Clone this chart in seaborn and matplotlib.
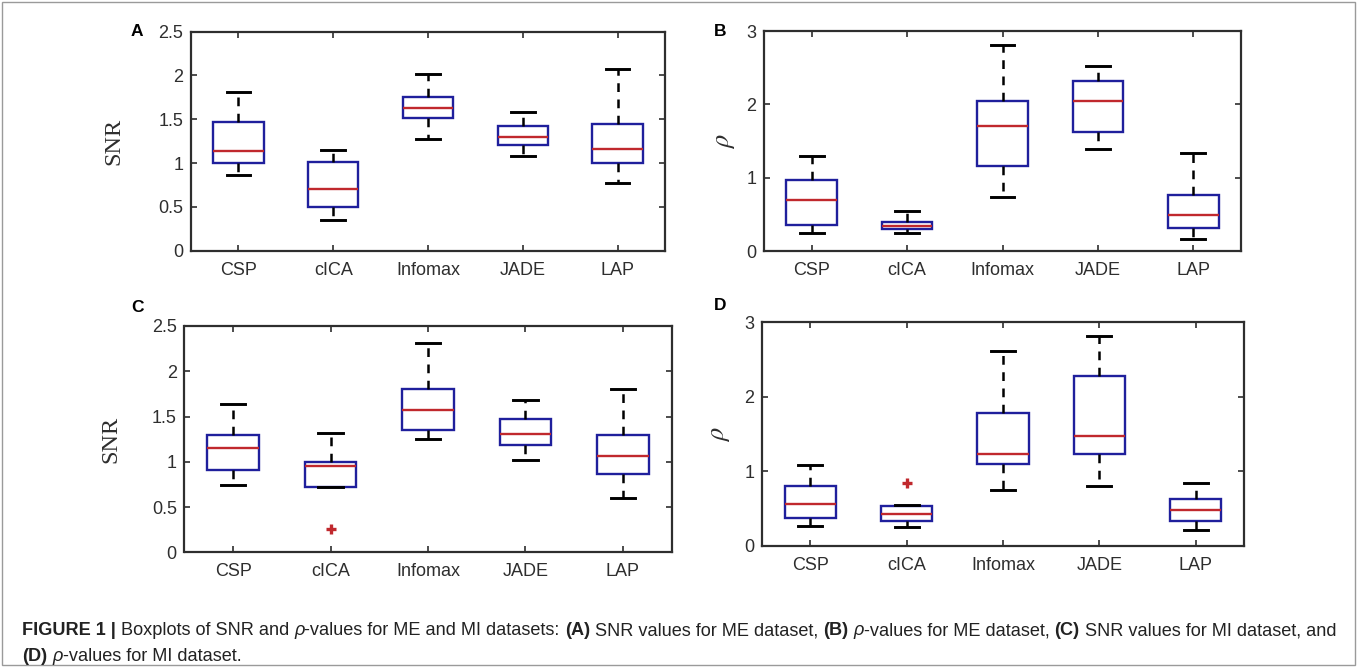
import numpy as np
import pandas as pd
import matplotlib
matplotlib.use("Agg")
import matplotlib.pyplot as plt
import seaborn as sns
from matplotlib import font_manager as fm
from matplotlib.patches import Rectangle

# ---------------- data ----------------
categories = ["CSP", "cICA", "Infomax", "JADE", "LAP"]

# Panel A: SNR values, ME dataset
a_low = [0.86, 0.35, 1.28, 1.08, 0.77]
a_q1 = [1.00, 0.50, 1.51, 1.21, 1.00]
a_med = [1.14, 0.70, 1.63, 1.30, 1.16]
a_q3 = [1.47, 1.01, 1.76, 1.42, 1.45]
a_high = [1.81, 1.15, 2.02, 1.58, 2.07]

# Panel B: rho values, ME dataset
b_low = [0.25, 0.25, 0.73, 1.39, 0.17]
b_q1 = [0.36, 0.30, 1.16, 1.62, 0.32]
b_med = [0.70, 0.34, 1.70, 2.05, 0.49]
b_q3 = [0.97, 0.40, 2.04, 2.32, 0.77]
b_high = [1.29, 0.54, 2.81, 2.52, 1.34]

# Panel C: SNR values, MI dataset
c_low = [0.74, 0.72, 1.25, 1.02, 0.60]
c_q1 = [0.91, 0.72, 1.35, 1.18, 0.86]
c_med = [1.15, 0.95, 1.57, 1.31, 1.06]
c_q3 = [1.30, 1.00, 1.80, 1.47, 1.30]
c_high = [1.64, 1.32, 2.31, 1.68, 1.80]
c_out_cat = ["cICA"]
c_out_val = [0.26]

# Panel D: rho values, MI dataset
d_low = [0.27, 0.25, 0.75, 0.80, 0.22]
d_q1 = [0.37, 0.33, 1.10, 1.23, 0.34]
d_med = [0.56, 0.43, 1.23, 1.48, 0.48]
d_q3 = [0.80, 0.53, 1.78, 2.28, 0.63]
d_high = [1.09, 0.55, 2.62, 2.82, 0.84]
d_out_cat = ["cICA"]
d_out_val = [0.85]

snr_ticks = [0, 0.5, 1, 1.5, 2, 2.5]
snr_ticklabels = ["0", "0.5", "1", "1.5", "2", "2.5"]
rho_ticks = [0, 1, 2, 3]
rho_ticklabels = ["0", "1", "2", "3"]

panel_letters = ["A", "B", "C", "D"]

# ---------------- style ----------------
W, H = 1358, 668
BOX = "#1f1f9c"
RED = "#c0282d"
INK = "#2e2e2e"

names = {f.name for f in fm.fontManager.ttflist}
SANS = "Liberation Sans" if "Liberation Sans" in names else "DejaVu Sans"
SERIF = "Liberation Serif" if "Liberation Serif" in names else "DejaVu Serif"
NARROW = "Liberation Sans Narrow" if "Liberation Sans Narrow" in names else SANS

plt.rcParams["font.family"] = [SANS, "DejaVu Sans"]
plt.rcParams["mathtext.fontset"] = "stix"

fig = plt.figure(figsize=(W / 100, H / 100), dpi=100)


def px_axes(x0, y0, x1, y1):
    return fig.add_axes([x0 / W, 1 - y1 / H, (x1 - x0) / W, (y1 - y0) / H])


def long_frame(lo, q1, md, q3, hi):
    rows = []
    for cat, *vals in zip(categories, lo, q1, md, q3, hi):
        for v in vals:
            rows.append((cat, v))
    return pd.DataFrame(rows, columns=["method", "value"])


def draw_panel(ax, lo, q1, md, q3, hi, ylim, ticks, ticklabels, out_cat=None, out_val=None):
    df = long_frame(lo, q1, md, q3, hi)
    sns.boxplot(
        data=df, x="method", y="value", order=categories, ax=ax,
        whis=(0, 100), width=0.53, fill=True, color="white", saturation=1,
        linecolor=BOX, linewidth=1.7, showfliers=False, capwidths=0.25,
        boxprops=dict(edgecolor=BOX, facecolor="white"),
        whiskerprops=dict(color="black", linestyle=(0, (3.5, 3)), linewidth=1.8),
        capprops=dict(color="black", linewidth=2.1),
        medianprops=dict(color=RED, linewidth=1.7),
    )
    if out_cat:
        sns.stripplot(x=out_cat, y=out_val, order=categories, jitter=False, ax=ax,
                      marker="+", color=RED, size=7, linewidth=2.4)
    ax.set_xlim(-0.5, 4.5)
    ax.set_ylim(*ylim)
    ax.set_yticks(ticks)
    ax.set_yticklabels(ticklabels)
    ax.set_xlabel("")
    ax.set_ylabel("")
    ax.tick_params(direction="in", length=4, width=1.2, top=True, right=True,
                   labeltop=False, labelright=False, color=INK,
                   labelcolor=INK, labelsize=13)
    ax.tick_params(axis="x", pad=8)
    ax.tick_params(axis="y", pad=5.5)
    for s in ax.spines.values():
        s.set_color(INK)
        s.set_linewidth(1.6)
        s.set_visible(True)
    ax.set_facecolor("white")


axA = px_axes(191, 31.7, 665, 250.7)
axB = px_axes(764, 31, 1241, 251)
axC = px_axes(184.5, 326, 671.5, 552.3)
axD = px_axes(762, 322.3, 1244, 546)

draw_panel(axA, a_low, a_q1, a_med, a_q3, a_high, (0, 2.5), snr_ticks, snr_ticklabels)
draw_panel(axB, b_low, b_q1, b_med, b_q3, b_high, (0, 3), rho_ticks, rho_ticklabels)
draw_panel(axC, c_low, c_q1, c_med, c_q3, c_high, (0, 2.5), snr_ticks, snr_ticklabels,
           c_out_cat, c_out_val)
draw_panel(axD, d_low, d_q1, d_med, d_q3, d_high, (0, 3), rho_ticks, rho_ticklabels,
           d_out_cat, d_out_val)

# y labels
for ax, xpx, x0, w in [(axA, 124, 191, 474), (axC, 121, 184.5, 487)]:
    ax.set_ylabel("SNR", family=SERIF, fontsize=17.5, color=INK)
    ax.yaxis.set_label_coords((xpx - x0) / w, 0.5)
for ax, xpx, x0, w in [(axB, 737, 764, 477), (axD, 732, 762, 482)]:
    ax.set_ylabel(r"$\rho$", fontsize=19, color=INK, rotation=90)
    ax.yaxis.set_label_coords((xpx - x0) / w, 0.5)

# panel letters
for letter, (xp, yp) in zip(panel_letters, [(137, 32), (720, 31), (138, 308), (720, 306)]):
    fig.text(xp / W, 1 - yp / H, letter, fontsize=12.5, fontweight="bold",
             family=SANS, ha="center", va="center", color="black")

# figure frame
fig.add_artist(Rectangle((2 / W, 3 / H), 1353 / W, 663 / H, transform=fig.transFigure,
                         fill=False, edgecolor="#9a9a9a", linewidth=1.0))

# ---------------- caption ----------------
fig.canvas.draw()
renderer = fig.canvas.get_renderer()

line1 = [("FIGURE 1 |", "bold", "normal"), (" Boxplots of SNR and ", "normal", "normal"),
         ("\u03c1", "normal", "italic"), ("-values for ME and MI datasets: ", "normal", "normal"),
         ("(A)", "bold", "normal"), (" SNR values for ME dataset, ", "normal", "normal"),
         ("(B)", "bold", "normal"), (" ", "normal", "normal"), ("\u03c1", "normal", "italic"),
         ("-values for ME dataset, ", "normal", "normal"), ("(C)", "bold", "normal"),
         (" SNR values for MI dataset, and", "normal", "normal")]
line2 = [("(D)", "bold", "normal"), (" ", "normal", "normal"), ("\u03c1", "normal", "italic"),
         ("-values for MI dataset.", "normal", "normal")]


def piece_width(txt, weight, style, size):
    t1 = fig.text(0, 0, txt + "l", fontsize=size, fontweight=weight, fontstyle=style,
                  family=[NARROW, "DejaVu Sans"])
    t2 = fig.text(0, 0, "l", fontsize=size, fontweight=weight, fontstyle=style,
                  family=[NARROW, "DejaVu Sans"])
    w = t1.get_window_extent(renderer).width - t2.get_window_extent(renderer).width
    t1.remove()
    t2.remove()
    return w


trial = 11.0
total = sum(piece_width(t, wt, st, trial) for t, wt, st in line1)
cap_size = trial * (1315.0 / total)


def draw_line(pieces, x0, ybase, size):
    x = x0
    for txt, wt, st in pieces:
        fig.text(x / W, 1 - ybase / H, txt, fontsize=size, fontweight=wt, fontstyle=st,
                 family=[NARROW, "DejaVu Sans"], ha="left", va="baseline", color="#222222")
        x += piece_width(txt, wt, st, size)


draw_line(line1, 22, 635, cap_size)
draw_line(line2, 22, 661, cap_size)

fig.savefig("out.png", dpi=100, facecolor="white")
